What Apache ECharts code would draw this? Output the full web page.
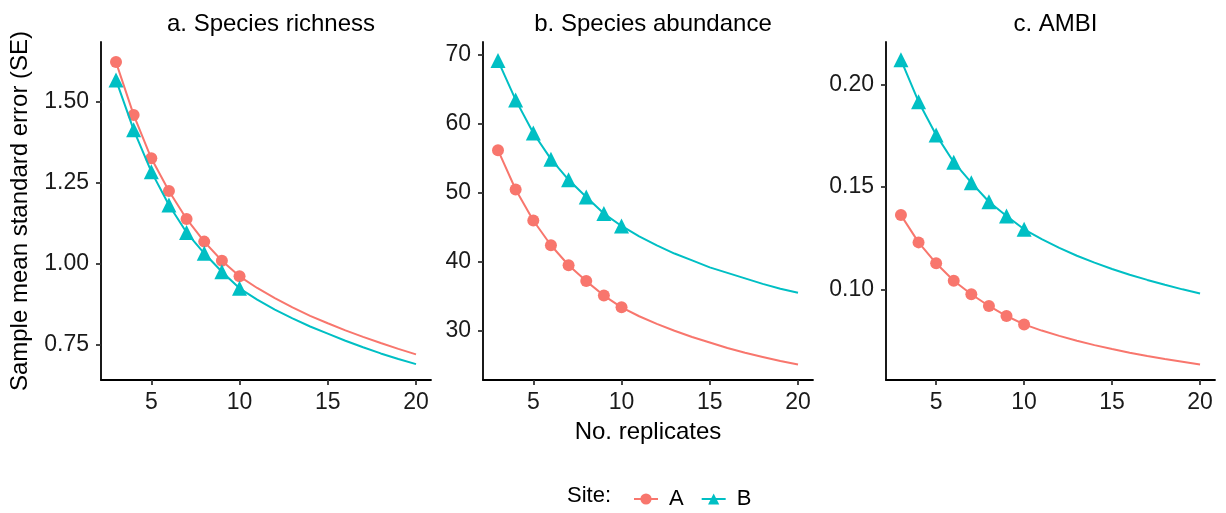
<!DOCTYPE html>
<html>
<head>
<meta charset="utf-8">
<script src="https://cdn.jsdelivr.net/npm/echarts@6/dist/echarts.min.js"></script>
<style>
  html, body { margin: 0; padding: 0; background: #fff; }
  #chart { width: 1226px; height: 513px; }
</style>
</head>
<body>
<div id="chart"></div>
<script>
// Number of replicates (x) for every curve; markers are drawn up to the sampled maximum.
const replicates = [3, 4, 5, 6, 7, 8, 9, 10, 11, 12, 13, 14, 15, 16, 17, 18, 19, 20];
const sampledMax = 10;

// Sample mean standard error per site
const richnessA = [1.623, 1.460, 1.326, 1.225, 1.139, 1.069, 1.010, 0.962, 0.926, 0.895, 0.866, 0.840, 0.817, 0.795, 0.775, 0.756, 0.738, 0.721];
const richnessB = [1.568, 1.414, 1.285, 1.182, 1.097, 1.033, 0.976, 0.925, 0.890, 0.859, 0.832, 0.807, 0.785, 0.763, 0.743, 0.724, 0.707, 0.691];
const abundanceA = [56.2, 50.5, 46.0, 42.4, 39.5, 37.2, 35.1, 33.4, 32.1, 31.0, 30.0, 29.1, 28.3, 27.5, 26.8, 26.2, 25.6, 25.1];
const abundanceB = [69.2, 63.5, 58.7, 54.9, 51.9, 49.4, 47.0, 45.2, 43.7, 42.4, 41.2, 40.2, 39.2, 38.4, 37.6, 36.8, 36.1, 35.5];
const ambiA = [0.1362, 0.1229, 0.1127, 0.1042, 0.0976, 0.0919, 0.0870, 0.0829, 0.0799, 0.0773, 0.0749, 0.0728, 0.0709, 0.0691, 0.0675, 0.0660, 0.0647, 0.0634];
const ambiB = [0.2119, 0.1915, 0.1753, 0.1620, 0.1520, 0.1427, 0.1358, 0.1293, 0.1245, 0.1202, 0.1164, 0.1130, 0.1099, 0.1071, 0.1046, 0.1022, 0.1000, 0.0980];

// Panel titles and tick labels
const panelTitles = ['a. Species richness', 'b. Species abundance', 'c. AMBI'];
const xTicks = [5, 10, 15, 20];
const yTicksRichness = [0.75, 1.00, 1.25, 1.50];
const yTicksAbundance = [30, 40, 50, 60, 70];
const yTicksAmbi = [0.10, 0.15, 0.20];

const FONT = "'Liberation Sans', Arial, sans-serif";
const COL_A = '#F8766D';
const COL_B = '#00BFC4';
const TEXT = '#1a1a1a';

const panels = [
  { left: 101, width: 330, yMin: 0.642, yMax: 1.685, ticks: yTicksRichness, dec: 2, a: richnessA, b: richnessB },
  { left: 483, width: 330, yMin: 22.85, yMax: 71.9, ticks: yTicksAbundance, dec: 0, a: abundanceA, b: abundanceB },
  { left: 886, width: 329, yMin: 0.0558, yMax: 0.2206, ticks: yTicksAmbi, dec: 2, a: ambiA, b: ambiB }
];
const TOP = 42, HEIGHT = 338;

function seriesData(values) {
  return replicates.map((n, i) => n <= sampledMax
    ? { value: [n, values[i]] }
    : { value: [n, values[i]], symbol: 'none' });
}

const axisLineStyle = { show: true, onZero: false, lineStyle: { color: '#000', width: 1.8 } };
const axisTickStyle = (vals) => ({ show: true, length: 5, lineStyle: { color: '#333', width: 1.8 }, customValues: vals });

const grid = [], xAxis = [], yAxis = [], series = [], title = [];
panels.forEach((p, k) => {
  grid.push({ left: p.left, top: TOP, width: p.width, height: HEIGHT, containLabel: false });
  title.push({
    text: panelTitles[k], left: p.left + p.width / 2, top: 7, textAlign: 'center',
    textStyle: { fontFamily: FONT, fontSize: 24, fontWeight: 'normal', color: '#000' }
  });
  xAxis.push({
    type: 'value', gridIndex: k, min: 2.15, max: 20.85,
    axisLine: axisLineStyle, axisTick: axisTickStyle(xTicks), splitLine: { show: false },
    axisLabel: { customValues: xTicks, margin: 11, fontFamily: FONT, fontSize: 23, color: TEXT },
    name: k === 1 ? 'No. replicates' : '', nameLocation: 'middle', nameGap: 40,
    nameTextStyle: { fontFamily: FONT, fontSize: 24, color: '#000' }
  });
  yAxis.push({
    type: 'value', gridIndex: k, min: p.yMin, max: p.yMax,
    axisLine: axisLineStyle, axisTick: axisTickStyle(p.ticks), splitLine: { show: false },
    axisLabel: { customValues: p.ticks, margin: 12, fontFamily: FONT, fontSize: 23, color: TEXT,
      formatter: (v) => v.toFixed(p.dec) },
    name: k === 0 ? 'Sample mean standard error (SE)' : '', nameLocation: 'middle', nameGap: 69,
    nameTextStyle: { fontFamily: FONT, fontSize: 24, color: '#000' }
  });
  series.push({
    name: 'A', type: 'line', xAxisIndex: k, yAxisIndex: k, data: seriesData(p.a),
    smooth: false, symbol: 'circle', symbolSize: 12,
    lineStyle: { color: COL_A, width: 2 }, itemStyle: { color: COL_A }, z: 2
  });
  series.push({
    name: 'B', type: 'line', xAxisIndex: k, yAxisIndex: k, data: seriesData(p.b),
    smooth: false, symbol: 'triangle', symbolSize: 15,
    lineStyle: { color: COL_B, width: 2 }, itemStyle: { color: COL_B }, z: 3
  });
});

const chart = echarts.init(document.getElementById('chart'), null, { renderer: 'canvas' });
chart.setOption({
  animation: false,
  backgroundColor: '#fff',
  title, grid, xAxis, yAxis, series,
  legend: {
    data: ['A', 'B'], left: 628, top: 483, itemWidth: 24, itemHeight: 14, itemGap: 17,
    textStyle: { fontFamily: FONT, fontSize: 22, color: '#000', padding: [0, 0, 0, 6] }
  },
  graphic: [{
    type: 'text', left: 567, top: 485,
    style: { text: 'Site:', fontFamily: FONT, fontSize: 22, fill: '#000' }
  }]
});
</script>
</body>
</html>
